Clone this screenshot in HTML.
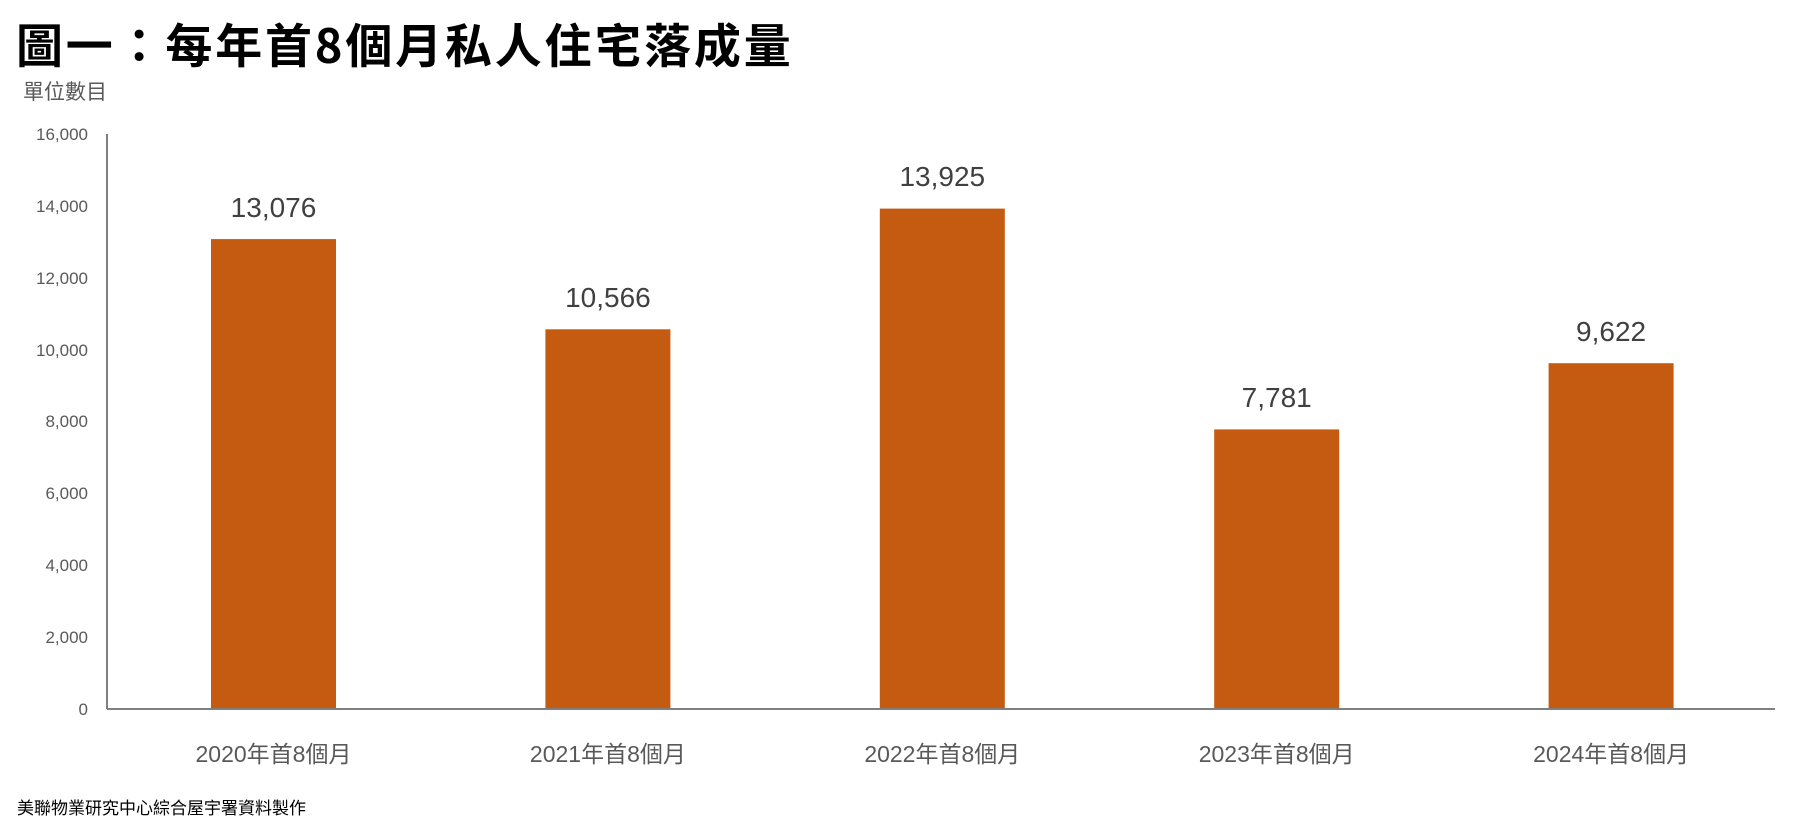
<!DOCTYPE html>
<html><head><meta charset="utf-8"><style>
body{margin:0;width:1797px;height:828px;background:#fff;overflow:hidden;position:relative;font-family:"Liberation Sans","Noto Sans CJK TC",sans-serif}
.t{position:absolute;white-space:nowrap}
</style></head><body>
<div class="t" style="left:16px;top:8px;font-size:47px;font-weight:bold;letter-spacing:2.8px;color:#000;font-family:'Noto Sans CJK TC',sans-serif">圖一：每年首8個月私人住宅落成量</div>
<div class="t" style="left:23px;top:76px;font-size:21px;color:#595959;font-family:'Noto Sans CJK TC',sans-serif">單位數目</div>
<svg width="1797" height="828" style="position:absolute;left:0;top:0" font-family="Liberation Sans, Noto Sans CJK TC, sans-serif">
<g fill="#595959" font-size="17" text-anchor="end">
<text x="88" y="140">16,000</text>
<text x="88" y="212">14,000</text>
<text x="88" y="284">12,000</text>
<text x="88" y="356">10,000</text>
<text x="88" y="427">8,000</text>
<text x="88" y="499">6,000</text>
<text x="88" y="571">4,000</text>
<text x="88" y="643">2,000</text>
<text x="88" y="715">0</text>
</g>
<g fill="#C55A11">
<rect x="211" y="239.1" width="125" height="469.9"/>
<rect x="545.4" y="329.3" width="125" height="379.7"/>
<rect x="879.8" y="208.6" width="125" height="500.4"/>
<rect x="1214.2" y="429.4" width="125" height="279.6"/>
<rect x="1548.6" y="363.2" width="125" height="345.8"/>
</g>
<line x1="107" y1="134" x2="107" y2="709" stroke="#808080" stroke-width="2"/>
<line x1="107" y1="709" x2="1775" y2="709" stroke="#808080" stroke-width="2"/>
<g fill="#404040" font-size="28" text-anchor="middle">
<text x="273.5" y="217">13,076</text>
<text x="607.9" y="307">10,566</text>
<text x="942.3" y="186">13,925</text>
<text x="1276.7" y="407">7,781</text>
<text x="1611.1" y="341">9,622</text>
</g>
<g fill="#595959" font-size="23" text-anchor="middle">
<text x="273.5" y="762">2020年首8個月</text>
<text x="607.9" y="762">2021年首8個月</text>
<text x="942.3" y="762">2022年首8個月</text>
<text x="1276.7" y="762">2023年首8個月</text>
<text x="1611.1" y="762">2024年首8個月</text>
</g>
<text x="17" y="814" font-size="17" fill="#000">美聯物業研究中心綜合屋宇署資料製作</text>
</svg>
</body></html>
